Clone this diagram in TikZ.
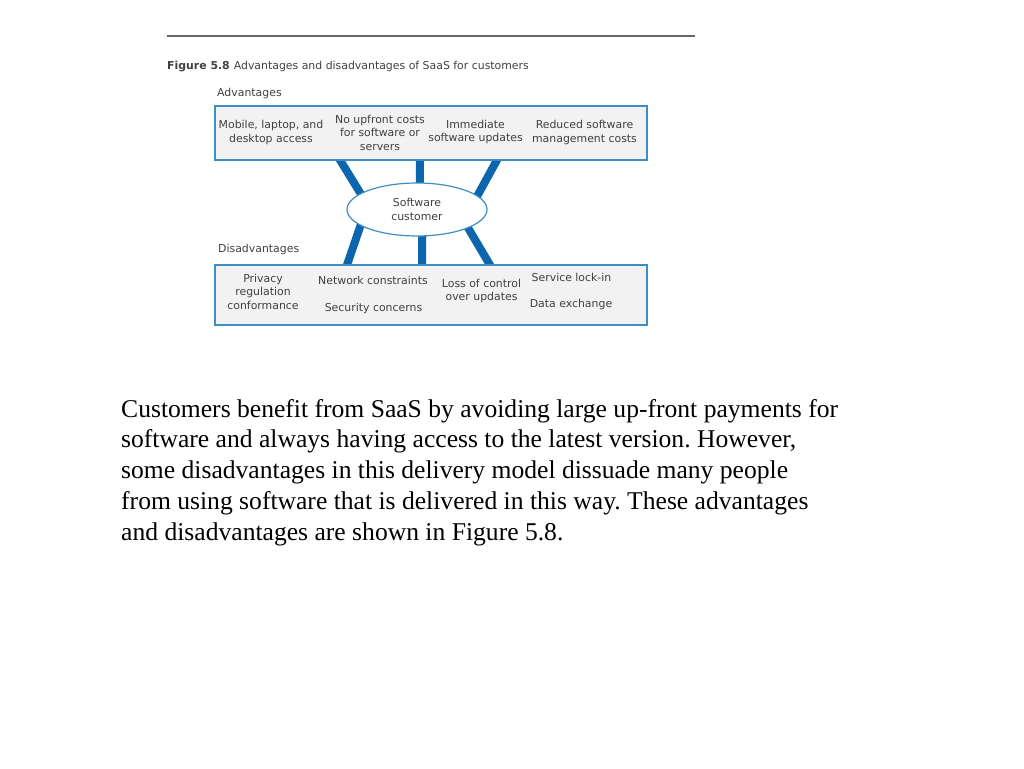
\documentclass[tikz,border=0pt]{standalone}
\usepackage{fontspec}
\setmainfont{Liberation Serif}
\newfontfamily\labelfont{DejaVu Sans}
\usetikzlibrary{shapes.geometric,backgrounds}
\definecolor{linkblue}{HTML}{0B66AE}
\definecolor{edgeblue}{HTML}{3E8DC4}
\definecolor{boxgray}{HTML}{F2F2F3}
\definecolor{labelgray}{HTML}{404040}
\frenchspacing
\tikzset{
  panel/.style={draw=edgeblue, line width=1.5pt, fill=boxgray, minimum width=432pt, inner sep=0pt},
  link/.style={draw=linkblue, line width=8pt, shorten <=-5pt, shorten >=-5pt},
  lab/.style={text=labelgray, align=center, inner sep=0pt, font=\labelfont\fontsize{10.9}{13.5}\selectfont},
  head/.style={lab, anchor=west}
}
\begin{document}
\begin{tikzpicture}[x=1pt,y=-1pt]
\useasboundingbox (0,0) rectangle (1024,768);

\coordinate (r1) at (167,36);
\coordinate (r2) at (695,36);
\draw[line width=1.4pt, black!60] (r1) -- (r2);

\node[head, font=\labelfont\fontsize{10.9}{12}\selectfont] (caption) at (167,67) {\textbf{Figure 5.8}\hspace{4pt}Advantages and disadvantages of SaaS for customers};
\node[head] (advhead) at (217,93.5) {Advantages};
\node[head] (dishead) at (218,249) {Disadvantages};

\node[panel, minimum height=54pt] (adv) at (431,133) {};
\node[panel, minimum height=60pt] (dis) at (431,295) {};
\node[ellipse, draw=edgeblue, line width=1.2pt, fill=white, minimum width=140pt, minimum height=53pt, inner sep=0pt] (cust) at (417,209.5) {};

\coordinate (a1) at (340,160);
\coordinate (a2) at (420,160);
\coordinate (a3) at (497,160);
\coordinate (d1) at (347,265);
\coordinate (d2) at (422,265);
\coordinate (d3) at (490,265);

\begin{pgfonlayer}{background}
\draw[link] (a1) -- (cust.164);
\draw[link] (a2) -- (cust.84);
\draw[link] (a3) -- (cust.13);
\draw[link] (d1) -- (cust.196);
\draw[link] (d2) -- (cust.281);
\draw[link] (d3) -- (cust.340);
\end{pgfonlayer}

\node[lab] (custlabel) at (cust.center) {Software\\customer};

\node[lab] (mobile) at (271,132.5) {Mobile, laptop, and\\desktop access};
\node[lab] (upfront) at (380,132.5) {No upfront costs\\for software or\\servers};
\node[lab] (updates) at (475.5,132) {Immediate\\software updates};
\node[lab] (reduced) at (584.5,132.5) {Reduced software\\management costs};

\node[lab] (privacy) at (263,291.5) {Privacy\\regulation\\conformance};
\node[lab] (network) at (373,280) {Network constraints};
\node[lab] (security) at (373.5,308.5) {Security concerns};
\node[lab] (control) at (481.5,291) {Loss of control\\over updates};
\node[lab] (lockin) at (571.5,277) {Service lock-in};
\node[lab] (exchange) at (571,304.5) {Data exchange};

\node[anchor=north west, align=left, inner sep=0pt, font=\fontsize{25.6}{30.75}\selectfont] (body) at (121,399) {Customers benefit from SaaS by avoiding large up-front payments for\\software and always having access to the latest version. However,\\some disadvantages in this delivery model dissuade many people\\from using software that is delivered in this way. These advantages\\and disadvantages are shown in Figure 5.8.};

\end{tikzpicture}
\end{document}
